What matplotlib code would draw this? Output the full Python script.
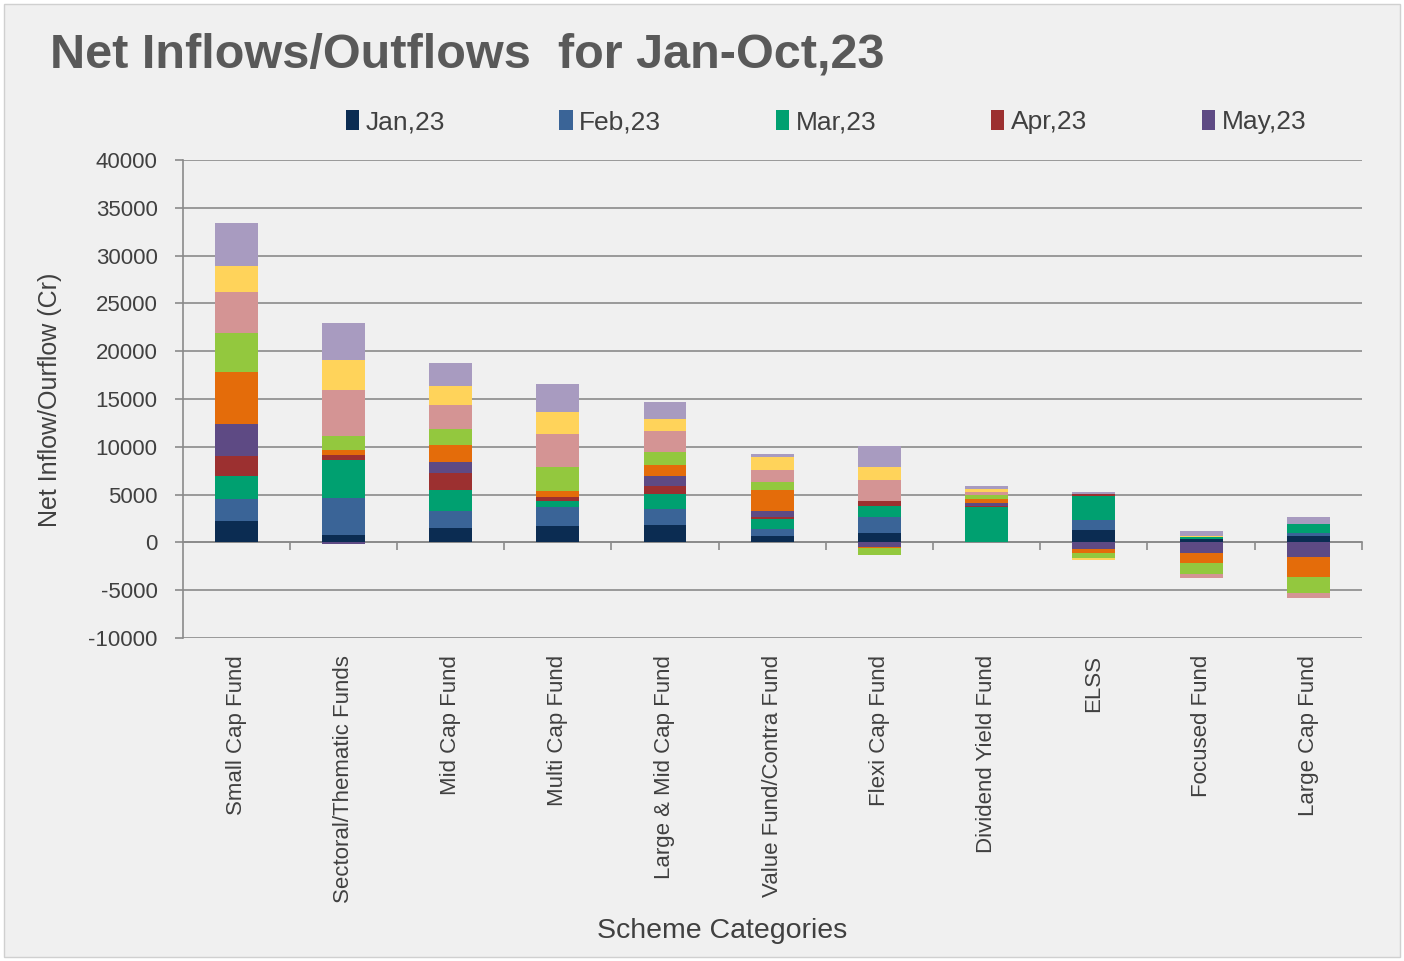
import numpy as np
import matplotlib.pyplot as plt
from matplotlib.patches import Rectangle

categories = ['Small Cap Fund', 'Sectoral/Thematic Funds', 'Mid Cap Fund', 'Multi Cap Fund',
              'Large & Mid Cap Fund', 'Value Fund/Contra Fund', 'Flexi Cap Fund',
              'Dividend Yield Fund', 'ELSS', 'Focused Fund', 'Large Cap Fund']
months = ['Jan,23', 'Feb,23', 'Mar,23', 'Apr,23', 'May,23',
          'Jun,23', 'Jul,23', 'Aug,23', 'Sep,23', 'Oct,23']

jan = [2220, 835, 1530, 1700, 1810, 660, 940, 0, 1290, 350, 660]
feb = [2340, 3830, 1810, 2030, 1640, 770, 1740, 0, 1010, 0, 350]
mar = [2360, 3930, 2190, 650, 1670, 1040, 1180, 3730, 2610, 200, 940]
apr = [2090, 520, 1740, 390, 760, 200, 520, 100, 150, 0, 0]
may = [3380, -170, 1120, 0, 1110, 670, -450, 250, -630, -1080, -1490]
jun = [5430, 600, 1770, 590, 1150, 2190, -100, 420, -450, -1040, -2090]
jul = [4070, 1390, 1710, 2540, 1290, 770, -800, 420, -520, -1220, -1740]
aug = [4350, 4800, 2540, 3450, 2190, 1320, 2200, 350, -50, -350, -450]
sep = [2710, 3200, 1910, 2290, 1290, 1290, 1320, 280, -230, 150, 0]
oct_ = [4430, 3840, 2440, 2930, 1780, 380, 2150, 350, 270, 480, 730]
series = [jan, feb, mar, apr, may, jun, jul, aug, sep, oct_]

colors = ['#0b2c52', '#3a6497', '#00a070', '#9c3030', '#5e4a84',
          '#e46c0a', '#93c83e', '#d49494', '#ffd35a', '#a89bc0']

text_col = '#404040'
plt.rcParams['font.family'] = ['Liberation Sans', 'DejaVu Sans']
plt.rcParams['axes.unicode_minus'] = False

fig = plt.figure(figsize=(14.04, 9.61), dpi=100, facecolor='white')
fig.patches.append(Rectangle((0.003, 0.004), 0.994, 0.992, transform=fig.transFigure,
                             facecolor='#f0f0f0', edgecolor='#d0d0d0', lw=1, zorder=-10))
ax = fig.add_axes([0.130, 0.336, 0.840, 0.4975])
ax.set_facecolor('#f0f0f0')

x = np.arange(len(categories))
pos = np.zeros(len(categories))
neg = np.zeros(len(categories))
for i, (vals, c) in enumerate(zip(series, colors)):
    v = np.array(vals, dtype=float)
    base = np.where(v >= 0, pos, neg)
    ax.bar(x, v, 0.40, bottom=base, color=c, zorder=3,
           label=months[i] if i < 5 else '_nolegend_')
    pos = pos + np.where(v > 0, v, 0)
    neg = neg + np.where(v < 0, v, 0)

ax.set_xlim(-0.5, len(categories) - 0.5)
ax.set_ylim(-10000, 40000)
ax.set_yticks(np.arange(-10000, 40001, 5000))
ax.yaxis.grid(True, color='#8a8a8a', lw=1.2, zorder=0)
ax.tick_params(axis='y', labelsize=16, colors='#8a8a8a', labelcolor=text_col,
               length=6, width=1.2, pad=12)
for s in ['top', 'right']:
    ax.spines[s].set_visible(False)
ax.spines['left'].set_color('#8a8a8a')
ax.spines['left'].set_linewidth(1.2)
ax.spines['bottom'].set_position(('data', 0))
ax.spines['bottom'].set_color('#8a8a8a')
ax.spines['bottom'].set_linewidth(1.2)
ax.set_xticks(np.arange(0.5, len(categories), 1.0))
ax.set_xticklabels([])
ax.tick_params(axis='x', length=6, width=1.2, colors='#8a8a8a', direction='out')

sec = ax.secondary_xaxis(0)
sec.set_xticks(x)
sec.set_xticklabels(categories, rotation=90, fontsize=16, color=text_col)
sec.tick_params(length=0, pad=12)
sec.spines['bottom'].set_visible(False)

fig.text(50 / 1404, 1 - 400 / 961, 'Net Inflow/Ourflow (Cr)', fontsize=18, color=text_col,
         ha='center', va='center', rotation=90)
fig.text(722 / 1404, 1 - 931 / 961, 'Scheme Categories', fontsize=20.5, color=text_col,
         ha='center', va='center')
fig.text(50 / 1404, 1 - 55 / 961, 'Net Inflows/Outflows  for Jan-Oct,23', fontsize=35,
         fontweight='bold', color='#595959', ha='left', va='center')

fig.legend(loc='center', bbox_to_anchor=(826 / 1404, 1 - 122 / 961), ncol=5, frameon=False,
           fontsize=19, handlelength=0.5, handleheight=0.8, handletextpad=0.25,
           columnspacing=4.35, labelcolor=text_col)

fig.savefig('out.png', dpi=100, facecolor=fig.get_facecolor())
